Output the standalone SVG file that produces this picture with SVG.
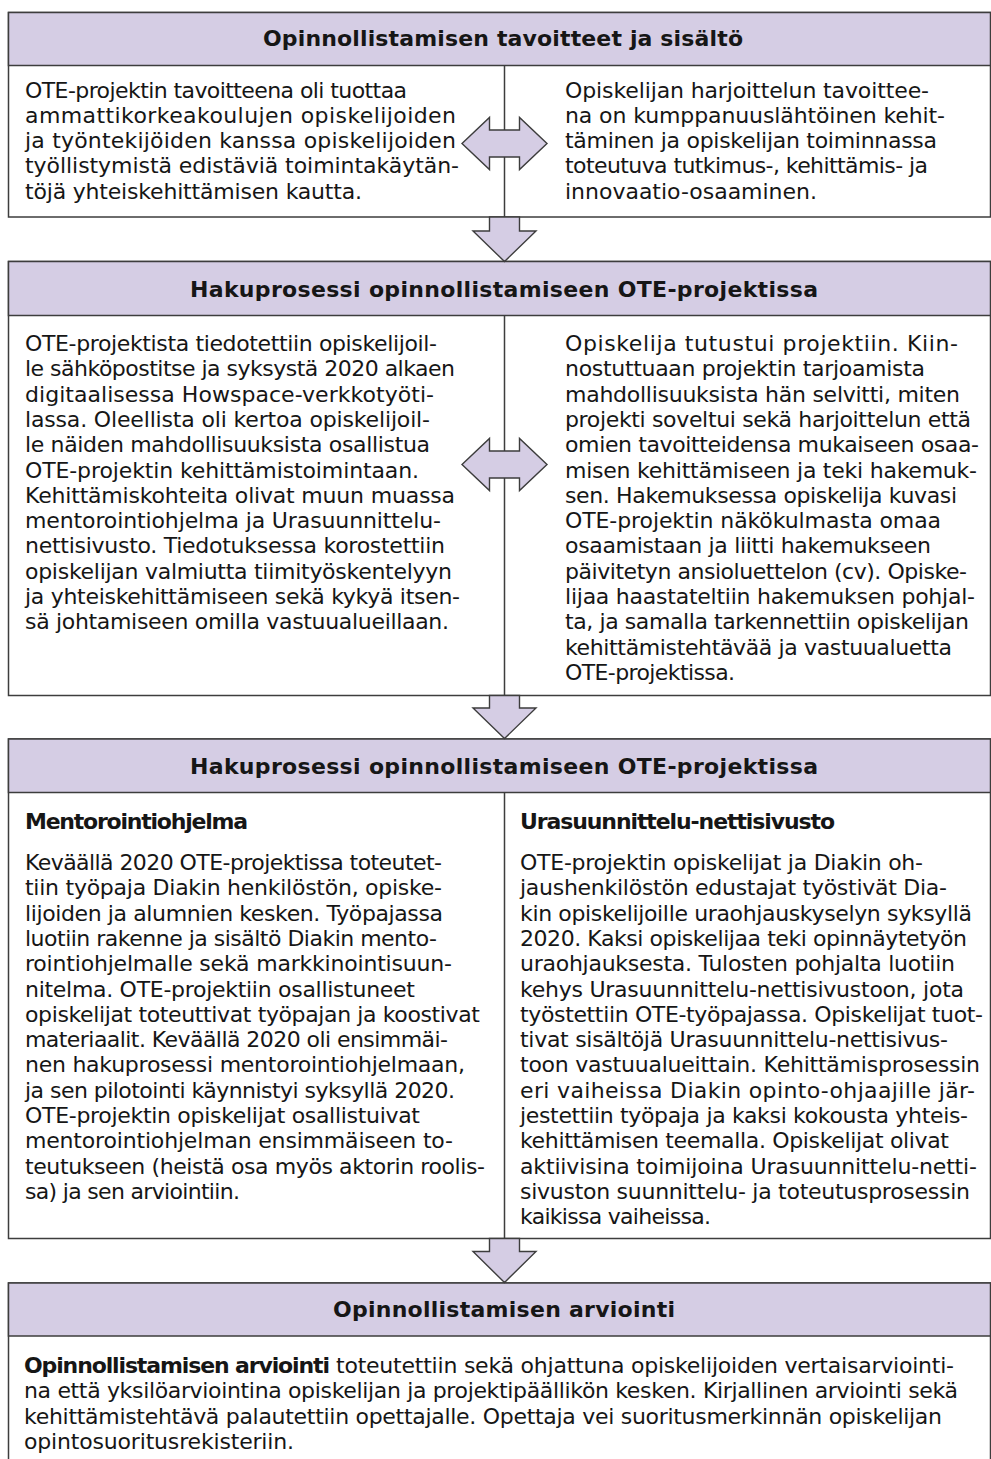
<svg xmlns="http://www.w3.org/2000/svg" width="991" height="1459" viewBox="0 0 991 1459">
<style>
.box{fill:#ffffff;stroke:#3d3d3d;stroke-width:1.5}
.hdr{fill:#d5cde4;stroke:#3d3d3d;stroke-width:1.5}
.div{stroke:#3d3d3d;stroke-width:1.5;fill:none}
.arr{fill:#d5cde4;stroke:#3d3d3d;stroke-width:1.4;stroke-linejoin:miter}
text{font-family:"DejaVu Sans","Liberation Sans",sans-serif;fill:#161616;font-size:22px}
.t{font-weight:bold;text-anchor:middle}
.s{font-weight:bold}
</style>
<rect width="991" height="1459" fill="#ffffff"/>

<g id="box1">
<rect class="box" x="8.5" y="12.5" width="982" height="204.5"/>
<rect class="hdr" x="8.5" y="12.5" width="982" height="53"/>
<line class="div" x1="504.5" y1="65.5" x2="504.5" y2="217"/>
<text class="t" x="503" y="46" textLength="480">Opinnollistamisen tavoitteet ja sisältö</text>
<text x="25" y="97.5" textLength="382">OTE-projektin tavoitteena oli tuottaa</text>
<text x="25" y="122.8" textLength="431">ammattikorkeakoulujen opiskelijoiden</text>
<text x="25" y="148.1" textLength="431">ja työntekijöiden kanssa opiskelijoiden</text>
<text x="25" y="173.4" textLength="434">työllistymistä edistäviä toimintakäytän-</text>
<text x="25" y="198.7" textLength="337">töjä yhteiskehittämisen kautta.</text>
<text x="565" y="97.5" textLength="364">Opiskelijan harjoittelun tavoittee-</text>
<text x="565" y="122.8" textLength="380">na on kumppanuuslähtöinen kehit-</text>
<text x="565" y="148.1" textLength="372">täminen ja opiskelijan toiminnassa</text>
<text x="565" y="173.4" textLength="363">toteutuva tutkimus-, kehittämis- ja</text>
<text x="565" y="198.7" textLength="252">innovaatio-osaaminen.</text>
</g>

<g id="box2">
<rect class="box" x="8.5" y="261.5" width="982" height="434"/>
<rect class="hdr" x="8.5" y="261.5" width="982" height="54"/>
<line class="div" x1="504.5" y1="315.5" x2="504.5" y2="695.5"/>
<text class="t" x="504" y="296.5" textLength="628">Hakuprosessi opinnollistamiseen OTE-projektissa</text>
<text x="25" y="351" textLength="412">OTE-projektista tiedotettiin opiskelijoil-</text>
<text x="25" y="376.3" textLength="430">le sähköpostitse ja syksystä 2020 alkaen</text>
<text x="25" y="401.6" textLength="409">digitaalisessa Howspace-verkkotyöti-</text>
<text x="25" y="426.9" textLength="405">lassa. Oleellista oli kertoa opiskelijoil-</text>
<text x="25" y="452.2" textLength="405">le näiden mahdollisuuksista osallistua</text>
<text x="25" y="477.5" textLength="394">OTE-projektin kehittämistoimintaan.</text>
<text x="25" y="502.8" textLength="430">Kehittämiskohteita olivat muun muassa</text>
<text x="25" y="528.1" textLength="416">mentorointiohjelma ja Urasuunnittelu-</text>
<text x="25" y="553.4" textLength="420">nettisivusto. Tiedotuksessa korostettiin</text>
<text x="25" y="578.7" textLength="427">opiskelijan valmiutta tiimityöskentelyyn</text>
<text x="25" y="604" textLength="435">ja yhteiskehittämiseen sekä kykyä itsen-</text>
<text x="25" y="629.3" textLength="424">sä johtamiseen omilla vastuualueillaan.</text>
<text x="565" y="351" textLength="393">Opiskelija tutustui projektiin. Kiin-</text>
<text x="565" y="376.3" textLength="360">nostuttuaan projektin tarjoamista</text>
<text x="565" y="401.6" textLength="395">mahdollisuuksista hän selvitti, miten</text>
<text x="565" y="426.9" textLength="406">projekti soveltui sekä harjoittelun että</text>
<text x="565" y="452.2" textLength="414">omien tavoitteidensa mukaiseen osaa-</text>
<text x="565" y="477.5" textLength="412">misen kehittämiseen ja teki hakemuk-</text>
<text x="565" y="502.8" textLength="392">sen. Hakemuksessa opiskelija kuvasi</text>
<text x="565" y="528.1" textLength="376">OTE-projektin näkökulmasta omaa</text>
<text x="565" y="553.4" textLength="366">osaamistaan ja liitti hakemukseen</text>
<text x="565" y="578.7" textLength="402">päivitetyn ansioluettelon (cv). Opiske-</text>
<text x="565" y="604" textLength="410">lijaa haastateltiin hakemuksen pohjal-</text>
<text x="565" y="629.3" textLength="404">ta, ja samalla tarkennettiin opiskelijan</text>
<text x="565" y="654.6" textLength="387">kehittämistehtävää ja vastuualuetta</text>
<text x="565" y="679.9" textLength="170">OTE-projektissa.</text>
</g>

<g id="box3">
<rect class="box" x="8.5" y="739" width="982" height="499.5"/>
<rect class="hdr" x="8.5" y="739" width="982" height="53.5"/>
<line class="div" x1="504.5" y1="792.5" x2="504.5" y2="1238.5"/>
<text class="t" x="504" y="773.5" textLength="628">Hakuprosessi opinnollistamiseen OTE-projektissa</text>
<text class="s" x="25" y="829" textLength="223">Mentorointiohjelma</text>
<text x="25" y="870" textLength="417">Keväällä 2020 OTE-projektissa toteutet-</text>
<text x="25" y="895.3" textLength="417">tiin työpaja Diakin henkilöstön, opiske-</text>
<text x="25" y="920.6" textLength="418">lijoiden ja alumnien kesken. Työpajassa</text>
<text x="25" y="945.9" textLength="412">luotiin rakenne ja sisältö Diakin mento-</text>
<text x="25" y="971.2" textLength="427">rointiohjelmalle sekä markkinointisuun-</text>
<text x="25" y="996.5" textLength="390">nitelma. OTE-projektiin osallistuneet</text>
<text x="25" y="1021.8" textLength="455">opiskelijat toteuttivat työpajan ja koostivat</text>
<text x="25" y="1047.1" textLength="423">materiaalit. Keväällä 2020 oli ensimmäi-</text>
<text x="25" y="1072.4" textLength="440">nen hakuprosessi mentorointiohjelmaan,</text>
<text x="25" y="1097.7" textLength="430">ja sen pilotointi käynnistyi syksyllä 2020.</text>
<text x="25" y="1123" textLength="395">OTE-projektin opiskelijat osallistuivat</text>
<text x="25" y="1148.3" textLength="428">mentorointiohjelman ensimmäiseen to-</text>
<text x="25" y="1173.6" textLength="460">teutukseen (heistä osa myös aktorin roolis-</text>
<text x="25" y="1198.9" textLength="215">sa) ja sen arviointiin.</text>
<text class="s" x="520" y="829" textLength="315">Urasuunnittelu-nettisivusto</text>
<text x="520" y="870" textLength="403">OTE-projektin opiskelijat ja Diakin oh-</text>
<text x="520" y="895.3" textLength="427">jaushenkilöstön edustajat työstivät Dia-</text>
<text x="520" y="920.6" textLength="452">kin opiskelijoille uraohjauskyselyn syksyllä</text>
<text x="520" y="945.9" textLength="447">2020. Kaksi opiskelijaa teki opinnäytetyön</text>
<text x="520" y="971.2" textLength="435">uraohjauksesta. Tulosten pohjalta luotiin</text>
<text x="520" y="996.5" textLength="444">kehys Urasuunnittelu-nettisivustoon, jota</text>
<text x="520" y="1021.8" textLength="463">työstettiin OTE-työpajassa. Opiskelijat tuot-</text>
<text x="520" y="1047.1" textLength="428">tivat sisältöjä Urasuunnittelu-nettisivus-</text>
<text x="520" y="1072.4" textLength="460">toon vastuualueittain. Kehittämisprosessin</text>
<text x="520" y="1097.7" textLength="455">eri vaiheissa Diakin opinto-ohjaajille jär-</text>
<text x="520" y="1123" textLength="448">jestettiin työpaja ja kaksi kokousta yhteis-</text>
<text x="520" y="1148.3" textLength="429">kehittämisen teemalla. Opiskelijat olivat</text>
<text x="520" y="1173.6" textLength="457">aktiivisina toimijoina Urasuunnittelu-netti-</text>
<text x="520" y="1198.9" textLength="450">sivuston suunnittelu- ja toteutusprosessin</text>
<text x="520" y="1224.2" textLength="191">kaikissa vaiheissa.</text>
</g>

<g id="box4">
<rect class="box" x="8.5" y="1283" width="982" height="200"/>
<rect class="hdr" x="8.5" y="1283" width="982" height="53"/>
<text class="t" x="504" y="1317" textLength="342">Opinnollistamisen arviointi</text>
<text x="24" y="1373"><tspan class="s" textLength="306">Opinnollistamisen arviointi</tspan><tspan x="336" textLength="618">toteutettiin sekä ohjattuna opiskelijoiden vertaisarviointi-</tspan></text>
<text x="24" y="1398.3" textLength="934">na että yksilöarviointina opiskelijan ja projektipäällikön kesken. Kirjallinen arviointi sekä</text>
<text x="24" y="1423.6" textLength="918">kehittämistehtävä palautettiin opettajalle. Opettaja vei suoritusmerkinnän opiskelijan</text>
<text x="24" y="1448.9" textLength="270">opintosuoritusrekisteriin.</text>
</g>

<g id="connectors">
<polygon class="arr" points="462,143.5 489.5,117.5 489.5,130 519.5,130 519.5,117.5 547,143.5 519.5,169.5 519.5,157 489.5,157 489.5,169.5"/>
<polygon class="arr" points="462,464.5 489.5,438.5 489.5,451 519.5,451 519.5,438.5 547,464.5 519.5,490.5 519.5,478 489.5,478 489.5,490.5"/>
<polygon class="arr" points="489.5,217 489.5,231 473,231 504.5,261.5 536,231 519.5,231 519.5,217"/>
<polygon class="arr" points="489.5,695.5 489.5,708 473,708 504.5,738.5 536,708 519.5,708 519.5,695.5"/>
<polygon class="arr" points="489.5,1238.5 489.5,1251.5 473,1251.5 504.5,1282.5 536,1251.5 519.5,1251.5 519.5,1238.5"/>
</g>
</svg>
